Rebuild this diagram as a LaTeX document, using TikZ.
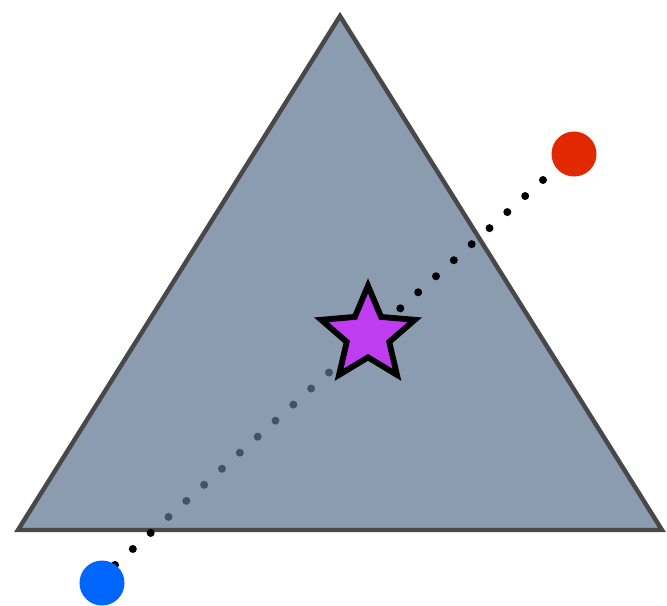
\documentclass[tikz,border=0pt]{standalone}
\usetikzlibrary{calc,shapes.geometric}
\definecolor{slate}{RGB}{139,156,176}
\definecolor{edgegray}{RGB}{72,72,72}
\definecolor{shadedot}{RGB}{70,82,98}
\definecolor{starpurple}{RGB}{192,60,240}
\definecolor{redpt}{RGB}{226,40,0}
\definecolor{bluept}{RGB}{0,102,255}
\tikzset{
	dot/.style={circle,inner sep=0pt,minimum size=0.24cm},
	endpt/.style={circle,inner sep=0pt,minimum size=1.35cm},
}
\begin{document}
\begin{tikzpicture}[x=0.03cm,y=-0.03cm,line join=miter]
	\useasboundingbox (0,0) rectangle (667,605);
	\coordinate (A) at (340,16);
	\coordinate (B) at (18,530);
	\coordinate (C) at (662,530);
	\coordinate (d0) at (115,565);
	\coordinate (d24) at (543,180);
	% the triangle
	\draw[fill=slate,draw=edgegray,line width=3.8pt] (A)--(B)--(C)--cycle;
	% dots of the line
	\foreach \k in {0,1,2,16,17,...,24} \node[dot,fill=black] at ($(d0)!\k/24!(d24)$) {};
	\foreach \k in {3,4,...,15} \node[dot,fill=shadedot] at ($(d0)!\k/24!(d24)$) {};
	% the star and the two end points
	\node[star,star points=5,star point ratio=2.2,minimum size=2.95cm,inner sep=0pt,
		fill=starpurple,draw=black,line width=5pt] (st) at (368,335) {};
	\node[endpt,fill=redpt] (red) at (574,154) {};
	\node[endpt,fill=bluept] (blue) at (102,583) {};
\end{tikzpicture}
\end{document}
